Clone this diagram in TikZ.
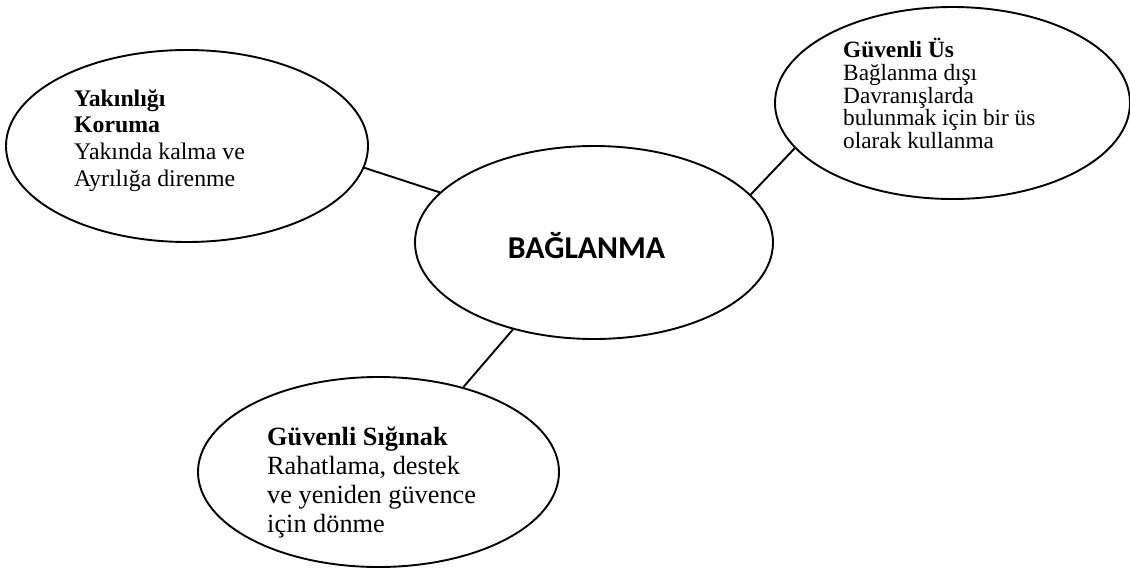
\documentclass[tikz,border=0pt]{standalone}
\usepackage{fontspec}
\setmainfont{Liberation Serif}
\newfontfamily\calibfont{Carlito}
\usetikzlibrary{shapes.geometric}
\begin{document}
\begin{tikzpicture}[x=1pt,y=-1pt,
  bubble/.style={draw=black, line width=1.9pt, ellipse, inner sep=0pt},
  link/.style={draw=black, line width=1.9pt},
  txt/.style={anchor=base west, align=left, inner sep=0pt, text=black}]
\useasboundingbox (0,0) rectangle (1130,571);
% ellipses
\node[bubble, minimum width=362pt, minimum height=192pt] (yak) at (187,146) {};
\node[bubble, minimum width=358pt, minimum height=193pt] (bag) at (594,242.5) {};
\node[bubble, minimum width=355pt, minimum height=192pt] (us) at (952.5,103) {};
\node[bubble, minimum width=361pt, minimum height=190pt] (sig) at (378.5,472) {};
% texts (anchored at the baseline of the last line)
\node[txt, font=\fontsize{23.8}{26.7}\selectfont] (tyak) at (74,186.1)
  {\textbf{Yakınlığı}\\\textbf{Koruma}\\Yakında kalma ve\\Ayrılığa direnme};
\node[txt, font=\fontsize{23.3}{22.8}\selectfont] (tus) at (843,148.7)
  {\textbf{Güvenli Üs}\\Bağlanma dışı\\Davranışlarda\\bulunmak için bir üs\\olarak kullanma};
\node[txt, font=\fontsize{26.3}{29}\selectfont] (tsig) at (267,532)
  {\textbf{Güvenli Sığınak}\\Rahatlama, destek\\ve yeniden güvence\\için dönme};
\node[anchor=base, inner sep=0pt, font=\calibfont\bfseries\fontsize{31.8}{38}\selectfont] (tbag) at (586.5,258) {BAĞLANMA};
% connectors
\draw[link] (yak.-7.6) -- (bag.162.7);
\draw[link] (bag.17.7) -- (us.196);
\draw[link] (bag.-133.8) -- (sig.45.5);
\end{tikzpicture}
\end{document}
